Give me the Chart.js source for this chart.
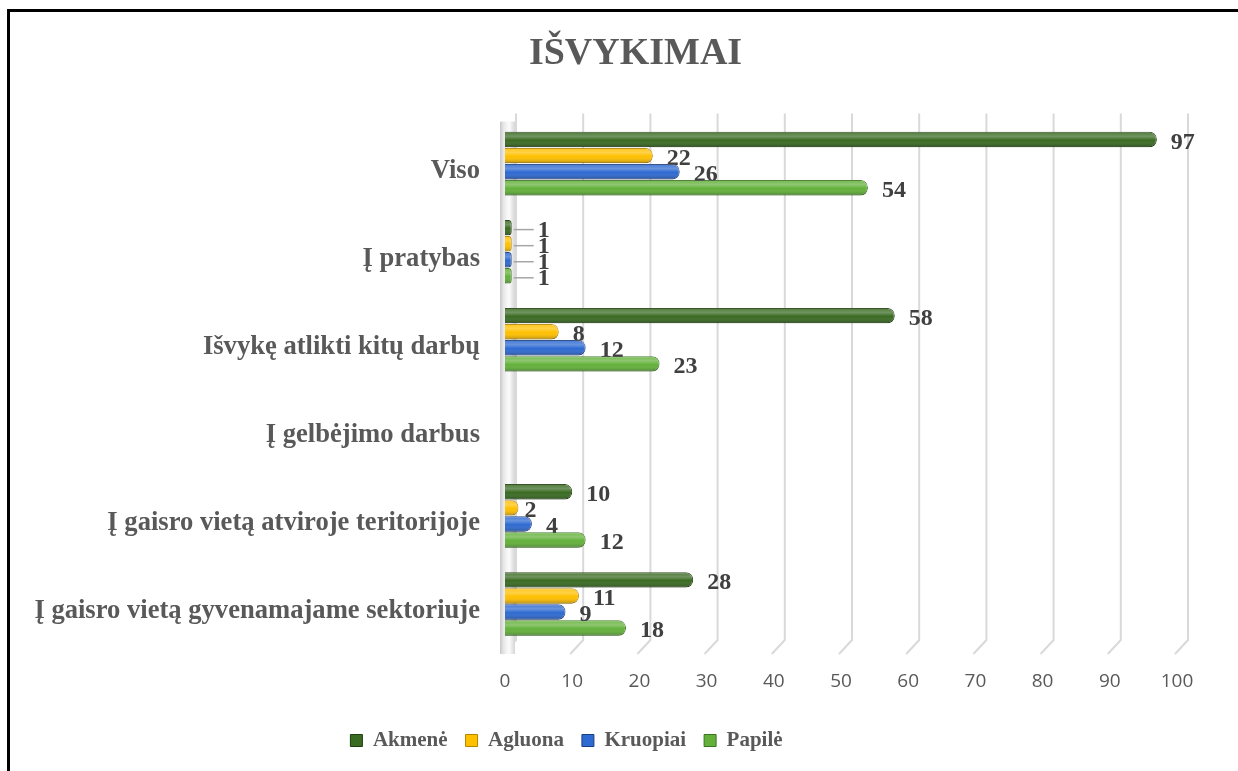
<!DOCTYPE html>
<html>
<head>
<meta charset="utf-8">
<script src="https://cdn.jsdelivr.net/npm/chart.js@4"></script>
<style>
    html, body { margin: 0; padding: 0; background: #fff; overflow: hidden; }
    #wrap { position: absolute; left: 0; top: 0; width: 1238px; height: 790px; }
    #frame { position: absolute; left: 7px; top: 9px; width: 1300px; height: 900px; border: 3px solid #000; pointer-events: none; }
</style>
</head>
<body>
<div id="wrap"><canvas id="chart" width="1238" height="790"></canvas></div>
<div id="frame"></div>
<script>
// Chart data
const categories = [
    'Viso',
    'Į pratybas',
    'Išvykę atlikti kitų darbų',
    'Į gelbėjimo darbus',
    'Į gaisro vietą atviroje teritorijoje',
    'Į gaisro vietą gyvenamajame sektoriuje'
];
const akmene = [97, 1, 58, null, 10, 28];
const agluona = [22, 1, 8, null, 2, 11];
const kruopiai = [26, 1, 12, null, 4, 9];
const papile = [54, 1, 23, null, 12, 18];
const xTicks = [0, 10, 20, 30, 40, 50, 60, 70, 80, 90, 100];

const serif = "'Liberation Serif', 'Times New Roman', serif";

// 3D-ish back gridlines and left wall
const wallPlugin = {
    id: 'wall',
    beforeDatasetsDraw(chart) {
        const { ctx, chartArea } = chart;
        const x = chart.scales.x;
        ctx.save();
        ctx.strokeStyle = '#d9d9d9';
        ctx.lineWidth = 2;
        xTicks.forEach(v => {
            const px = x.getPixelForValue(v);
            ctx.beginPath();
            ctx.moveTo(px + 11, chartArea.top - 6);
            ctx.lineTo(px + 11, chartArea.bottom - 8);
            ctx.lineTo(px - 2, chartArea.bottom + 6);
            ctx.stroke();
        });
        const x0 = x.getPixelForValue(0);
        const g = ctx.createLinearGradient(x0 - 5, 0, x0 + 10, 0);
        g.addColorStop(0, '#c8c8c8');
        g.addColorStop(0.25, '#e8e8e8');
        g.addColorStop(0.6, '#fcfcfc');
        g.addColorStop(1, '#d6d6d6');
        ctx.fillStyle = g;
        ctx.fillRect(x0 - 5, chartArea.top + 2, 15, chartArea.bottom - chartArea.top + 4);
        ctx.restore();
    }
};

// glossy cylinder look + value labels
const barLabels = {
    id: 'barLabels',
    afterDatasetsDraw(chart) {
        const { ctx } = chart;
        ctx.save();
        chart.getSortedVisibleDatasetMetas().forEach(meta => {
            const ds = chart.data.datasets[meta.index];
            meta.data.forEach((el, i) => {
                const v = ds.data[i];
                if (v === null || v === undefined) return;
                const top = el.y - el.height / 2;
                const len = el.x - el.base;
                // shading
                ctx.save();
                ctx.beginPath();
                ctx.roundRect(el.base, top, len, el.height, [0, 7, 7, 0]);
                ctx.clip();
                const g = ctx.createLinearGradient(0, top, 0, top + el.height);
                g.addColorStop(0, 'rgba(255,255,255,0.10)');
                g.addColorStop(0.3, 'rgba(255,255,255,0.28)');
                g.addColorStop(0.55, 'rgba(255,255,255,0)');
                g.addColorStop(1, 'rgba(0,0,0,0.28)');
                ctx.fillStyle = g;
                ctx.fillRect(el.base, top, len, el.height);
                ctx.restore();

                // label, with a leader line for the tiny bars
                let tx = el.x + 14;
                if (len < 10) {
                    tx = el.x + 26;
                    ctx.strokeStyle = '#a6a6a6';
                    ctx.lineWidth = 1.5;
                    ctx.beginPath();
                    ctx.moveTo(el.x + 2, el.y + 2);
                    ctx.lineTo(tx - 4, el.y + 2);
                    ctx.stroke();
                } else if (len < 20) {
                    tx = el.x + 6;
                }
                ctx.fillStyle = '#404040';
                ctx.font = 'bold 24px ' + serif;
                ctx.textAlign = 'left';
                ctx.textBaseline = 'middle';
                ctx.fillText(String(v), tx, el.y + 3);
            });
        });
        ctx.restore();
    }
};

// title and legend are not centred on the canvas in the original
const shiftBlocks = {
    id: 'shiftBlocks',
    afterLayout(chart) {
        if (chart.titleBlock) {
            chart.titleBlock.left += 47;
            chart.titleBlock.right += 47;
        }
        if (chart.legend) {
            chart.legend.left -= 22;
            chart.legend.right -= 22;
        }
    }
};

const ctx = document.getElementById('chart').getContext('2d');

new Chart(ctx, {
    type: 'bar',
    data: {
        labels: categories,
        datasets: [
            { label: 'Akmenė', data: akmene, backgroundColor: '#3a6b22', borderColor: '#213d12' },
            { label: 'Agluona', data: agluona, backgroundColor: '#ffc000', borderColor: '#b38600' },
            { label: 'Kruopiai', data: kruopiai, backgroundColor: '#2e6ad1', borderColor: '#1b3f82' },
            { label: 'Papilė', data: papile, backgroundColor: '#63b13a', borderColor: '#3b7420' }
        ]
    },
    options: {
        indexAxis: 'y',
        responsive: false,
        animation: false,
        devicePixelRatio: 1,
        layout: {
            padding: { top: 10, left: 0, right: 61, bottom: 29 }
        },
        datasets: {
            bar: {
                categoryPercentage: 0.73,
                barPercentage: 0.96,
                borderWidth: 1,
                borderRadius: 7,
                borderSkipped: 'start'
            }
        },
        scales: {
            x: {
                min: 0,
                max: 100,
                afterBuildTicks: (scale) => {
                    scale.ticks = xTicks.map(v => ({ value: v }));
                },
                afterFit: (scale) => { scale.height = 64; },
                grid: { display: false, drawTicks: false },
                border: { display: false },
                ticks: {
                    padding: 22,
                    color: '#595959',
                    font: { family: "'Open Sans', sans-serif", size: 19 }
                }
            },
            y: {
                afterFit: (scale) => { scale.width = 505; },
                grid: { display: false, drawTicks: false },
                border: { display: false },
                ticks: {
                    padding: 25,
                    labelOffset: 7,
                    color: '#595959',
                    font: { family: serif, size: 26.6, weight: 'bold' }
                }
            }
        },
        plugins: {
            title: {
                display: true,
                text: 'IŠVYKIMAI',
                color: '#595959',
                font: { family: serif, size: 38, weight: 'bold' },
                padding: { top: 21, bottom: 43 }
            },
            legend: {
                position: 'bottom',
                labels: {
                    boxWidth: 12,
                    boxHeight: 12,
                    padding: 18,
                    color: '#595959',
                    font: { family: serif, size: 21, weight: 'bold' }
                }
            },
            tooltip: { enabled: false }
        }
    },
    plugins: [wallPlugin, barLabels, shiftBlocks]
});
</script>
</body>
</html>
